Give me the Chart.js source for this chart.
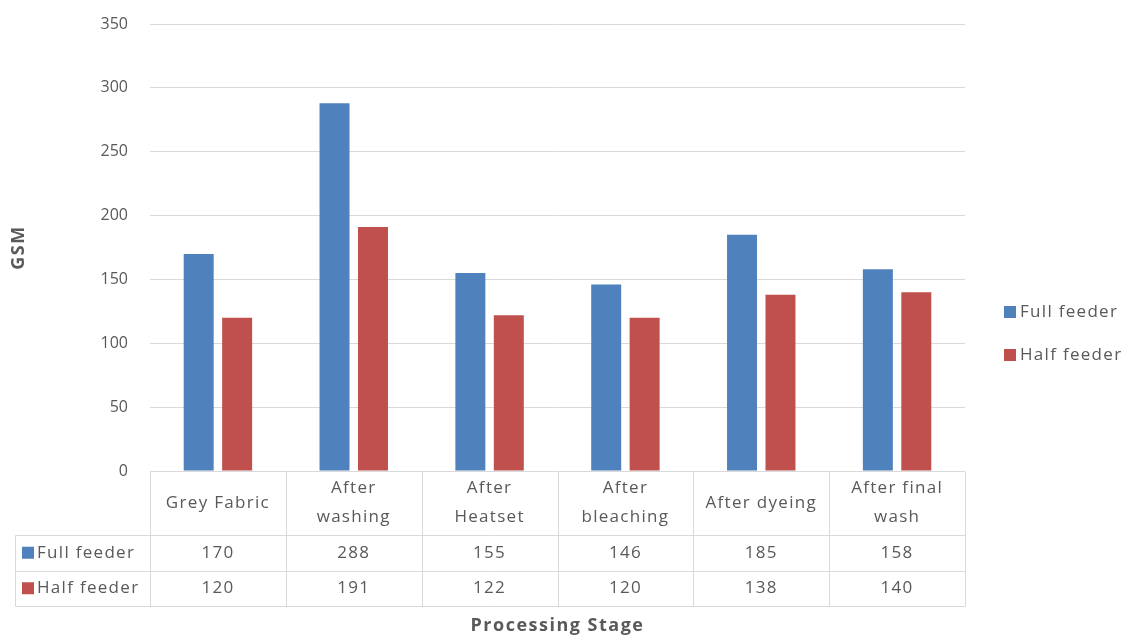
<!DOCTYPE html>
<html>
<head>
<meta charset="utf-8">
<script src="https://cdn.jsdelivr.net/npm/chart.js@4/dist/chart.umd.min.js"></script>
<style>
  html, body { margin: 0; padding: 0; background: #ffffff; }
  #wrap { width: 1125px; height: 637px; }
</style>
</head>
<body>
<div id="wrap"><canvas id="c" width="1125" height="637"></canvas></div>
<script>
// Processing stages (each entry split into the lines shown in the table header)
const stages = [
  ['Grey Fabric'],
  ['After', 'washing'],
  ['After', 'Heatset'],
  ['After', 'bleaching'],
  ['After dyeing'],
  ['After final', 'wash']
];
const seriesNames = ['Full feeder', 'Half feeder'];
const fullFeeder = [170, 288, 155, 146, 185, 158];
const halfFeeder = [120, 191, 122, 120, 138, 140];
const yTicks = [0, 50, 100, 150, 200, 250, 300, 350];
const yTitle = 'GSM';
const xTitle = 'Processing Stage';

const colors = ['#4F81BD', '#C0504D'];
const textColor = '#595959';
const gridColor = '#d9d9d9';
const FONT = '"Open Sans", "DejaVu Sans", sans-serif';

// Draws the data table under the plot, the axis titles and the side legend
const tablePlugin = {
  id: 'dataTable',
  afterDraw(chart) {
    const ctx = chart.ctx;
    const area = chart.chartArea;
    const x = chart.scales.x;
    const n = stages.length;
    const colW = (area.right - area.left) / n;
    const headTop = area.bottom;
    const headBot = headTop + 64;
    const row1Bot = headBot + 35.5;
    const row2Bot = row1Bot + 35.5;
    const tableLeft = 15;

    ctx.save();
    ctx.strokeStyle = gridColor;
    ctx.lineWidth = 1;
    const line = (x1, y1, x2, y2) => {
      ctx.beginPath();
      ctx.moveTo(Math.round(x1) + 0.5, Math.round(y1) + 0.5);
      ctx.lineTo(Math.round(x2) + 0.5, Math.round(y2) + 0.5);
      ctx.stroke();
    };
    // horizontal rules
    line(tableLeft, headBot, area.right, headBot);
    line(tableLeft, row1Bot, area.right, row1Bot);
    line(tableLeft, row2Bot, area.right, row2Bot);
    // vertical rules
    line(tableLeft, headBot, tableLeft, row2Bot);
    for (let i = 0; i <= n; i++) {
      const px = area.left + i * colW;
      line(px, headTop, px, row2Bot);
    }

    ctx.fillStyle = textColor;
    ctx.font = '17px ' + FONT;
    ctx.letterSpacing = '1.3px';
    ctx.textAlign = 'center';
    ctx.textBaseline = 'middle';
    const headMid = (headTop + headBot) / 2;
    stages.forEach((lines, i) => {
      const cx = x.getPixelForValue(i);
      const lh = 29;
      lines.forEach((t, j) => {
        const cy = headMid + (j - (lines.length - 1) / 2) * lh;
        ctx.fillText(t, cx, cy);
      });
      ctx.fillText(String(fullFeeder[i]), cx, (headBot + row1Bot) / 2);
      ctx.fillText(String(halfFeeder[i]), cx, (row1Bot + row2Bot) / 2);
    });

    // row headers with legend keys
    ctx.textAlign = 'left';
    [[headBot, row1Bot], [row1Bot, row2Bot]].forEach((r, k) => {
      const cy = (r[0] + r[1]) / 2;
      ctx.fillStyle = colors[k];
      ctx.fillRect(22, cy - 6, 12, 12);
      ctx.fillStyle = textColor;
      ctx.fillText(seriesNames[k], 37, cy);
    });

    // side legend
    [312, 355].forEach((cy, k) => {
      ctx.fillStyle = colors[k];
      ctx.fillRect(1004, cy - 6, 12, 12);
      ctx.fillStyle = textColor;
      ctx.fillText(seriesNames[k], 1020, cy);
    });

    // axis titles
    ctx.fillStyle = textColor;
    ctx.font = 'bold 18px ' + FONT;
    ctx.letterSpacing = '1.5px';
    ctx.textAlign = 'center';
    ctx.fillText(xTitle, (area.left + area.right) / 2, 626);
    ctx.save();
    ctx.translate(19, (area.top + area.bottom) / 2);
    ctx.rotate(-Math.PI / 2);
    ctx.fillText(yTitle, 0, 0);
    ctx.restore();
    ctx.letterSpacing = '0px';
    ctx.restore();
  }
};

new Chart(document.getElementById('c'), {
  type: 'bar',
  data: {
    labels: stages.map(s => s.join(' ')),
    datasets: [
      { label: seriesNames[0], data: fullFeeder, backgroundColor: colors[0],
        categoryPercentage: 0.566, barPercentage: 0.78 },
      { label: seriesNames[1], data: halfFeeder, backgroundColor: colors[1],
        categoryPercentage: 0.566, barPercentage: 0.78 }
    ]
  },
  options: {
    responsive: false,
    animation: false,
    devicePixelRatio: 1,
    layout: { padding: { top: 24, right: 160, left: 0, bottom: 0 } },
    plugins: { legend: { display: false }, tooltip: { enabled: false } },
    scales: {
      x: {
        grid: { display: false, drawTicks: false },
        border: { display: false },
        ticks: { display: false },
        afterFit(s) { s.height = 166; }
      },
      y: {
        min: 0, max: 350,
        afterBuildTicks(s) { s.ticks = yTicks.map(v => ({ value: v })); },
        grid: { color: gridColor, drawTicks: false, lineWidth: 1 },
        border: { display: false },
        ticks: { color: textColor, font: { family: FONT, size: 16 }, padding: 22 },
        afterFit(s) { s.width = 150; s.paddingTop = 0; s.paddingBottom = 0; }
      }
    }
  },
  plugins: [tablePlugin]
});
</script>
</body>
</html>
